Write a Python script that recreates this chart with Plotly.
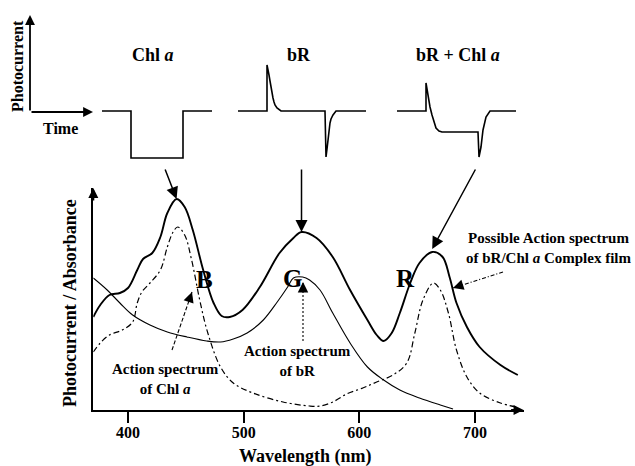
import plotly.graph_objects as go

W, H = 635, 466
SERIF = "Liberation Serif"

# ---- spectra (wavelength in nm, relative signal in arbitrary units) ----
complex_nm = [370, 376, 384, 393, 400, 408, 413, 421, 428, 434, 442, 449, 456, 465, 474,
              481, 488, 499, 514, 531, 543, 550, 563, 577, 592, 607, 615, 621, 628, 635,
              644, 652, 663, 672, 678, 684, 693, 704, 722, 737]
complex_val = [93, 105, 115, 117, 122, 140, 151, 157, 173, 197, 211, 203, 180, 140, 107,
               94, 93, 100, 123, 157, 172, 178, 172, 153, 120, 90, 75, 69, 77, 97,
               127, 147, 158, 153, 133, 107, 83, 63, 45, 35]

chla_nm = [370, 376, 384, 395, 404, 408, 412, 419, 428, 434, 439, 443, 449, 455, 462,
           469, 480, 491, 508, 534, 557, 566, 577, 589, 603, 615, 629, 641, 648, 655,
           664, 670, 677, 684, 693, 704, 722, 736]
chla_val = [58, 67, 75, 80, 88, 107, 118, 127, 140, 163, 178, 183, 175, 150, 110,
            77, 43, 27, 17, 8, 4, 4, 8, 16, 22, 28, 35, 47, 77, 110,
            127, 120, 97, 60, 33, 17, 7, 3]

br_nm = [370, 382, 393, 404, 419, 434, 451, 468, 480, 491, 503, 517, 529, 538, 543,
         551, 557, 566, 577, 592, 607, 621, 635, 652, 670, 681]
br_val = [132, 120, 107, 95, 85, 78, 73, 69, 68, 71, 77, 90, 108, 123, 132,
          133, 130, 120, 97, 67, 43, 30, 20, 12, 5, 1]

# ---- photocurrent transients (time and current in arbitrary units) ----
chl_t = [0, 29, 29, 81, 81, 110]
chl_i = [0, 0, -47, -47, 0, 0]

br_t = [0, 29, 29, 30, 31, 32, 33, 34, 35, 36, 37, 39, 41, 43,
        87, 88, 89, 90, 91, 92, 93, 95, 98, 128]
br_i = [0, 0, 46, 42, 36, 30, 23, 17, 13, 9, 6, 3, 1, 0,
        0, -46, -38, -27, -18, -12, -8, -4, 0, 0]

mix_t = [0, 29, 29, 31, 33, 35, 37, 39, 42, 45, 81, 82, 84, 86, 89, 93, 119]
mix_i = [0, 0, 28, 14, 4, -4, -12, -17, -20, -21, -21, -46, -36, -19, -6, 0, 0]

wl_ticks = [400, 500, 600, 700]


def fx(p):
    return p / W


def fy(p):
    return 1 - p / H


# main axes placement (page pixels)
X0_NM, X1_NM = 370, 742
PX_PER_NM = 1.1567
PX_400 = 128
AX_BOTTOM, AX_TOP = 410, 188
Y_MAX = AX_BOTTOM - AX_TOP


def nm_at(p):
    return 400 + (p - PX_400) / PX_PER_NM


def val_at(p):
    return AX_BOTTOM - p


def px_at(nm):
    return PX_400 + (nm - 400) * PX_PER_NM


fig = go.Figure()

fig.add_trace(go.Scatter(x=complex_nm, y=complex_val, mode="lines",
                         line=dict(color="black", width=1.9, shape="spline", smoothing=1.0),
                         hoverinfo="skip"))
fig.add_trace(go.Scatter(x=br_nm, y=br_val, mode="lines",
                         line=dict(color="black", width=1.1, shape="spline", smoothing=1.0),
                         hoverinfo="skip"))
fig.add_trace(go.Scatter(x=chla_nm, y=chla_val, mode="lines",
                         line=dict(color="black", width=1.2, shape="spline", smoothing=1.0,
                                   dash="6px,3px,2px,3px"),
                         hoverinfo="skip"))

# transient panels
tline = dict(color="black", width=1.6)
fig.add_trace(go.Scatter(x=chl_t, y=chl_i, xaxis="x2", yaxis="y2", mode="lines",
                         line=tline, hoverinfo="skip"))
fig.add_trace(go.Scatter(x=br_t, y=br_i, xaxis="x3", yaxis="y2", mode="lines",
                         line=tline, hoverinfo="skip"))
fig.add_trace(go.Scatter(x=mix_t, y=mix_i, xaxis="x4", yaxis="y2", mode="lines",
                         line=tline, hoverinfo="skip"))

hidden = dict(visible=False, fixedrange=True)

fig.update_layout(
    width=W, height=H,
    margin=dict(l=0, r=0, t=0, b=0),
    paper_bgcolor="white", plot_bgcolor="rgba(0,0,0,0)",
    showlegend=False,
    xaxis=dict(domain=[fx(px_at(X0_NM)), fx(px_at(X1_NM))], range=[X0_NM, X1_NM],
               showline=True, linewidth=2, linecolor="black", mirror=False,
               ticks="outside", ticklen=11, tickwidth=1.5, tickcolor="black",
               tickvals=wl_ticks, ticktext=[str(v) for v in wl_ticks],
               ticklabelstandoff=-4,
               tickfont=dict(family=SERIF, size=16, color="black", weight="bold"),
               showgrid=False, zeroline=False, anchor="y"),
    yaxis=dict(domain=[fy(AX_BOTTOM), fy(AX_TOP)], range=[0, Y_MAX],
               showline=True, linewidth=2, linecolor="black",
               showticklabels=False, ticks="", showgrid=False, zeroline=False, anchor="x"),
    xaxis2=dict(domain=[fx(102), fx(212)], range=[0, 110], anchor="y2", **hidden),
    xaxis3=dict(domain=[fx(238), fx(367)], range=[0, 129], anchor="y2", **hidden),
    xaxis4=dict(domain=[fx(397), fx(520)], range=[0, 123], anchor="y2", **hidden),
    yaxis2=dict(domain=[fy(165), fy(60)], range=[-54, 51], anchor="x2", **hidden),
)

ann = []


def text(x, y, s, size, angle=0):
    ann.append(dict(x=fx(x), y=fy(y), xref="paper", yref="paper", text=s, showarrow=False,
                    xanchor="center", yanchor="middle", textangle=angle,
                    font=dict(family=SERIF, size=size, color="black", weight="bold")))


def head(x, y, ax, ay, width, size, xref="x", yref="y"):
    ann.append(dict(x=x, y=y, xref=xref, yref=yref, ax=ax, ay=ay, axref="pixel",
                    ayref="pixel", text="", showarrow=True, arrowhead=2,
                    arrowwidth=width, arrowsize=size, arrowcolor="black", standoff=0))


# axis arrowheads of the main chart
head(X1_NM, 0, -14, 0, 2, 1.0)
head(X0_NM, Y_MAX, 0, 14, 2, 1.0)

# key axes for the transients
head(fx(30), fy(15), 0, 97, 1.8, 1.1, "paper", "paper")
head(fx(93), fy(112), -63, 0, 1.8, 1.1, "paper", "paper")
text(18, 66, "Photocurrent", 16, -90)
text(60, 128, "Time", 16)

# panel titles
text(153, 55, "Chl <i>a</i>", 18)
text(299, 55, "bR", 18)
text(458, 55, "bR + Chl <i>a</i>", 18)

# arrows from each transient down to the matching peak
i_b = complex_val.index(max(complex_val[:15]))
i_g = 15 + complex_val[15:27].index(max(complex_val[15:27]))
i_r = 27 + complex_val[27:].index(max(complex_val[27:]))
head(complex_nm[i_b], complex_val[i_b], -12, -31, 1.5, 1.6)
head(complex_nm[i_g], complex_val[i_g], 0, -64, 1.5, 1.6)
head(complex_nm[i_r], complex_val[i_r] + 3, 44, -81, 1.5, 1.6)

# band letters
text(204, 279, "B", 25)
text(292, 278, "G", 25)
text(405, 278, "R", 25)

# labels with their pointer lines
text(165, 379, "Action spectrum<br>of Chl <i>a</i>", 15)
text(297, 361, "Action spectrum<br>of bR", 15)
text(549, 248, "Possible Action spectrum<br>of bR/Chl <i>a</i> Complex film", 15)

shapes = []
pointers = [
    ((172, 350), (192, 292), "4px,2px"),
    ((303, 341), (303, 282), "2px,2px"),
    ((503, 272), (453, 288), "4px,2px,1px,2px"),
]
for (tx, ty), (hx, hy), dash in pointers:
    shapes.append(dict(type="line", xref="x", yref="y",
                       x0=nm_at(tx), y0=val_at(ty), x1=nm_at(hx), y1=val_at(hy),
                       line=dict(color="black", width=1.1, dash=dash)))
    dx, dy = tx - hx, ty - hy
    n = (dx * dx + dy * dy) ** 0.5
    head(nm_at(hx), val_at(hy), 8 * dx / n, 8 * dy / n, 1.1, 1.9)

# x axis title
text(305, 456, "Wavelength (nm)", 18)
# y axis title
text(70, 303, "Photocurrent / Absorbance", 18, -90)

fig.update_layout(annotations=ann, shapes=shapes)

fig.write_html("out.html")
